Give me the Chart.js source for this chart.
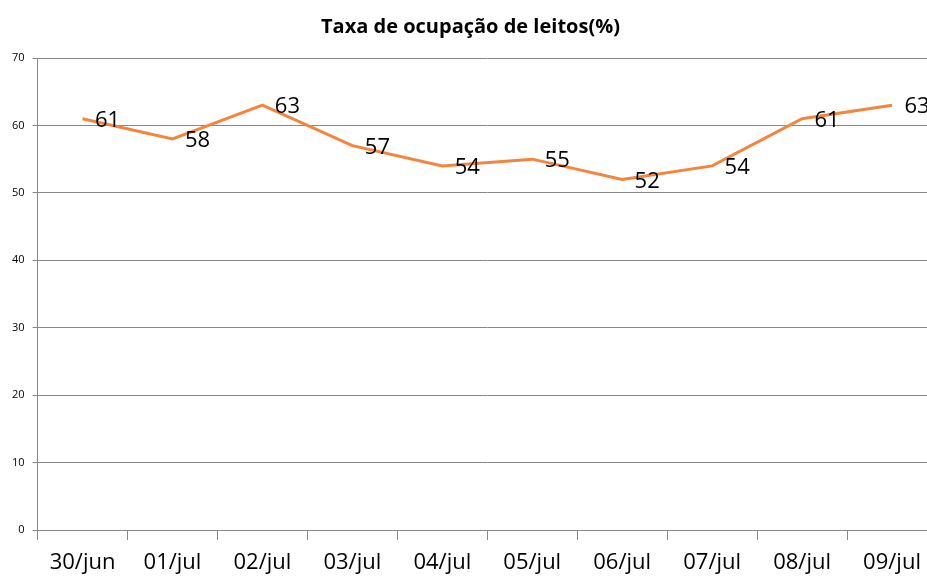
<!DOCTYPE html>
<html>
<head>
<meta charset="utf-8">
<script src="https://cdn.jsdelivr.net/npm/chart.js@4"></script>
<style>
  html, body { margin: 0; padding: 0; background: #fff; overflow: hidden; }
  #wrap { width: 940px; height: 576px; position: relative; }
</style>
</head>
<body>
<div id="wrap"><canvas id="grafico"></canvas></div>
<script>
const dias = ['30/jun', '01/jul', '02/jul', '03/jul', '04/jul', '05/jul', '06/jul', '07/jul', '08/jul', '09/jul'];
const ocupacao = [61, 58, 63, 57, 54, 55, 52, 54, 61, 63];

// rótulos de valor ao lado de cada ponto
const rotulos = {
    id: 'rotulos',
    afterDatasetsDraw(chart) {
        const ctx = chart.ctx;
        const meta = chart.getDatasetMeta(0);
        ctx.save();
        ctx.font = '22px "Open Sans", sans-serif';
        ctx.fillStyle = '#000';
        ctx.textAlign = 'center';
        ctx.textBaseline = 'middle';
        meta.data.forEach((pt, i) => {
            ctx.fillText(ocupacao[i], pt.x + 25, pt.y + 2);
        });
        ctx.restore();
    }
};

const ctxOcup = document.getElementById('grafico').getContext('2d');

const graficoOcup = new Chart(ctxOcup, {
    type: 'line',
    data: {
        labels: dias,
        datasets: [{
            label: 'Taxa de ocupação',
            data: ocupacao,
            borderColor: '#F5843C',
            borderWidth: 3,
            pointRadius: 0,
            tension: 0,
        }]
    },
    plugins: [rotulos],
    options: {
        responsive: true,
        maintainAspectRatio: false,
        animation: false,
        layout: { padding: { left: 4, right: 3, top: 0, bottom: 0 } },
        plugins: {
            legend: { display: false },
            tooltip: { enabled: false },
            title: {
                display: true,
                text: 'Taxa de ocupação de leitos(%)',
                color: '#000',
                font: { family: '"Open Sans", sans-serif', size: 20, weight: 'bold' },
                padding: { top: 15, bottom: 19 }
            }
        },
        scales: {
            x: {
                offset: true,
                afterFit(scale) { scale.height = 46; },
                grid: {
                    offset: true,
                    drawOnChartArea: false,
                    color: '#888',
                    tickLength: 10,
                },
                border: { color: '#888' },
                ticks: {
                    color: '#000',
                    font: { family: '"Open Sans", sans-serif', size: 22 },
                    maxRotation: 0,
                    padding: 10,
                }
            },
            y: {
                min: 0,
                max: 70,
                ticks: {
                    stepSize: 10,
                    color: '#000',
                    font: { family: '"Open Sans", sans-serif', size: 11 },
                    padding: 8,
                },
                grid: { color: '#888', tickLength: 5 },
                border: { color: '#888' }
            }
        }
    }
});
</script>
</body>
</html>
